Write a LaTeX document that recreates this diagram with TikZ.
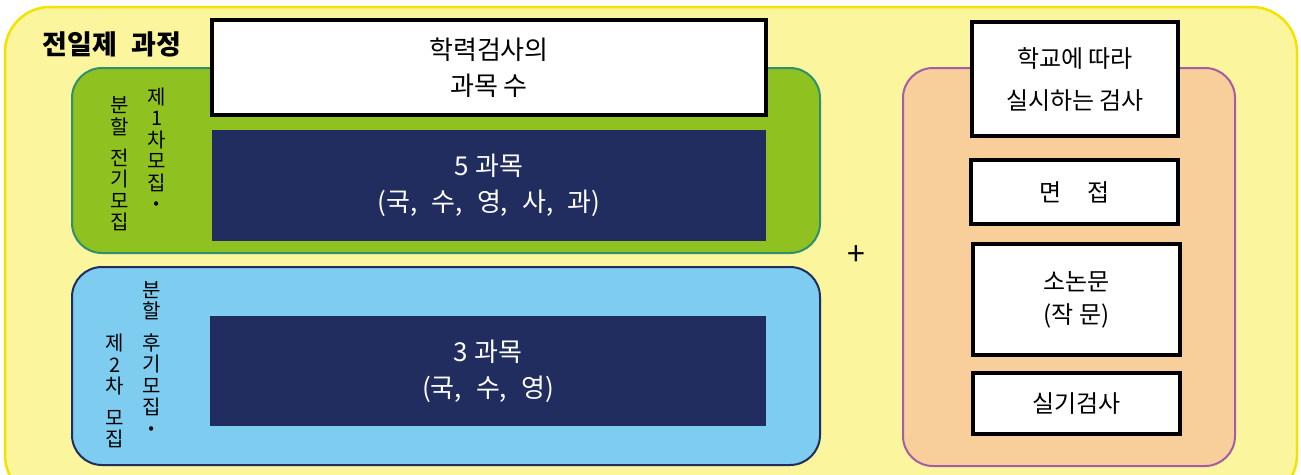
\documentclass[tikz,border=0pt]{standalone}
\usepackage{fontspec}
\setmainfont{Noto Sans CJK KR}
\usetikzlibrary{positioning}

\definecolor{paleyellow}{HTML}{FBF59D}
\definecolor{lineyellow}{HTML}{F2E400}
\definecolor{leafgreen}{HTML}{8FC221}
\definecolor{linegreen}{HTML}{2F8F6E}
\definecolor{skyblue}{HTML}{7ECDF1}
\definecolor{navy}{HTML}{222D5F}
\definecolor{peach}{HTML}{F8CF9B}
\definecolor{linepurple}{HTML}{A55DA5}

\newcommand{\gap}{,\hspace{14pt}}

\tikzset{
  group/.style={rounded corners=30pt, line width=2pt, inner sep=0pt},
  whitebox/.style={draw=black, fill=white, line width=3.5pt, align=center,
    font=\fontsize{26}{36}\selectfont},
  navybox/.style={fill=navy, text=white, align=center,
    font=\fontsize{26}{36}\selectfont},
  vtext/.style={align=center, inner sep=0pt, font=\fontsize{20}{21.5}\selectfont}
}

\begin{document}
\begin{tikzpicture}[x=1pt, y=-1pt]
  \useasboundingbox (0,0) rectangle (1301,474);

  % 바탕
  \draw[fill=paleyellow, draw=lineyellow, line width=2.5pt, rounded corners=45pt]
    (5,7) rectangle (1297,500);
  \node[font=\fontsize{27}{30}\selectfont\bfseries] (title) at (112,44)
    {전일제\hspace{14pt}과정};

  % 왼쪽 묶음
  \node[group, fill=leafgreen, draw=linegreen, minimum width=748, minimum height=185]
    (first) at (446,160.5) {};
  \node[group, fill=skyblue, draw=navy, minimum width=748, minimum height=198]
    (second) at (446,366) {};

  \node[whitebox, minimum width=554, minimum height=95] (subject) at (489,67.5)
    {학력검사의\\과목 수};
  \node[navybox, minimum width=554, minimum height=111] (five) at (489,185.5)
    {5 과목\\(국\gap 수\gap 영\gap 사\gap 과)};
  \node[navybox, minimum width=556, minimum height=110] (three) at (488,371)
    {3 과목\\(국\gap 수\gap 영)};

  % 세로 글자
  \node[vtext] (firstA) at (120,164) {분\\할\\[9.5pt]전\\기\\모\\집};
  \node[vtext] (firstB) at (157,149.5) {제\\1\\차\\모\\집\\{\bfseries ·}};
  \node[vtext] (secondA) at (115,391) {제\\2\\차\\[10pt]모\\집};
  \node[vtext] (secondB) at (152,359) {분\\할\\[10pt]후\\기\\모\\집\\{\bfseries ·}};

  \node[font=\fontsize{32}{34}\selectfont] (plus) at (856,256) {+};

  % 오른쪽 묶음
  \node[group, fill=peach, draw=linepurple, minimum width=332, minimum height=398]
    (school) at (1069,267) {};
  \node[whitebox, minimum width=206, minimum height=114,
    font=\fontsize{24}{42}\selectfont] (bySchool) at (1075,79)
    {학교에 따라\\실시하는 검사};
  \node[whitebox, minimum width=207, minimum height=64,
    font=\fontsize{24}{30}\selectfont] (interview) at (1074.5,192) {면\hspace{26pt}접};
  \node[whitebox, minimum width=207, minimum height=111,
    font=\fontsize{24}{33}\selectfont] (essay) at (1076.5,299.5) {소논문\\(작 문)};
  \node[whitebox, minimum width=207, minimum height=61,
    font=\fontsize{24}{30}\selectfont] (skill) at (1076.5,403.5) {실기검사};
\end{tikzpicture}
\end{document}
